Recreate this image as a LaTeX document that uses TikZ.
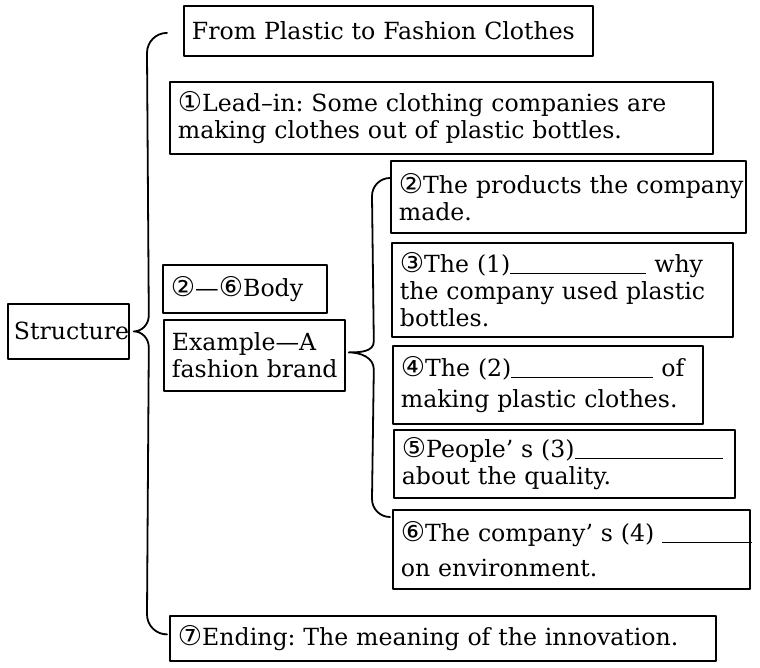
\documentclass[tikz,border=0pt]{standalone}
\usepackage{fontspec}
\setmainfont{DejaVu Serif}
\newfontfamily\circfont[Scale=1.15]{DejaVu Sans}
\usetikzlibrary{calc}
\newcommand{\cnum}[1]{{\circfont #1}}
\newcommand{\blank}[1]{\rule[-0.6pt]{#1}{0.5pt}}
\frenchspacing
\tikzset{
	txtbox/.style={draw, line width=0.9pt, anchor=north west, inner xsep=4pt, inner ysep=0pt, align=left},
	brace/.style={line width=0.9pt},
}
\begin{document}
\begin{tikzpicture}[line join = round, line cap = round, x=0.5pt, y=0.5pt, font=\fontsize{11.8}{13.5}\selectfont]
	\useasboundingbox (0,0) rectangle (760,-668);
	% left part
	\node[txtbox, inner xsep=3pt, minimum width=60.5pt, minimum height=27.5pt, text width=54.5pt] (struct) at (7,-303) {\mbox{Structure}};
	\node[txtbox, minimum width=204.5pt, minimum height=25pt, text width=196.5pt] (ttl) at (183,-5) {\mbox{From Plastic to Fashion Clothes}};
	\node[txtbox, minimum width=271.5pt, minimum height=36pt, text width=263.5pt] (lead) at (169,-81) {\mbox{\cnum{①}Lead–in: Some clothing companies are}\\ \mbox{making clothes out of plastic bottles.}};
	\node[txtbox, minimum width=82pt, minimum height=24pt, text width=74pt] (body) at (162,-264) {\mbox{\cnum{②}—\cnum{⑥}Body}};
	\node[txtbox, minimum width=90.5pt, minimum height=35.5pt, text width=82.5pt] (example) at (163,-319) {\mbox{Example—A}\\ \mbox{fashion brand}};
	\node[txtbox, minimum width=273pt, minimum height=22.5pt, text width=265pt] (ending) at (169,-615) {\mbox{\cnum{⑦}Ending: The meaning of the innovation.}};
	% right part
	\node[txtbox, minimum width=177.5pt, minimum height=36pt, text width=169.5pt] (p2) at (390,-160) {\mbox{\cnum{②}The products the company}\\ made.};
	\node[txtbox, minimum width=170.5pt, minimum height=47pt, text width=162.5pt] (p3) at (391,-242) {\mbox{\cnum{③}The (1)\blank{68pt} why}\\ \mbox{the company used plastic}\\ bottles.};
	\node[txtbox, minimum width=155pt, minimum height=39pt, text width=147pt] (p4) at (392,-345) {\mbox{\cnum{④}The (2)\blank{71pt} of}\\[2pt] \mbox{making plastic clothes.}};
	\node[txtbox, minimum width=170.5pt, minimum height=34pt, text width=162.5pt] (p5) at (393,-429) {\mbox{\cnum{⑤}People’ s (3)\blank{74pt}}\\ \mbox{about the quality.}};
	\node[txtbox, minimum width=178.5pt, minimum height=39.5pt, text width=170.5pt] (p6) at (392,-509) {\mbox{\cnum{⑥}The company’ s (4) \rlap{\blank{45pt}}}\\[4pt] \mbox{on environment.}};
	% braces
	\coordinate (sp) at ($(struct.east)+(19,0)$);
	\draw[brace] ($(ttl.west)+(-16,-2)$) to[out=180,in=90] ++(-20,-20)
		-- ($(sp)+(0,16)$) to[out=-90,in=0] ($(struct.east)+(4,0)$) to[out=0,in=90] ($(sp)+(0,-16)$)
		-- ($(ending.west)+(-22,24)$) to[out=-90,in=180] ($(ending.west)+(-2,4)$);
	\coordinate (ex) at ($(example.east)+(28,0)$);
	\draw[brace] ($(p2.north west)+(0,-18)$) to[out=180,in=90] ++(-18,-18)
		-- ($(ex)+(0,14)$) to[out=-90,in=0] ($(example.east)+(3,3)$) to[out=0,in=90] ($(ex)+(0,-14)$)
		-- ($(p6.north west)+(-20,10)$) to[out=-90,in=180] ($(p6.north west)+(-2,-8)$);
\end{tikzpicture}
\end{document}
